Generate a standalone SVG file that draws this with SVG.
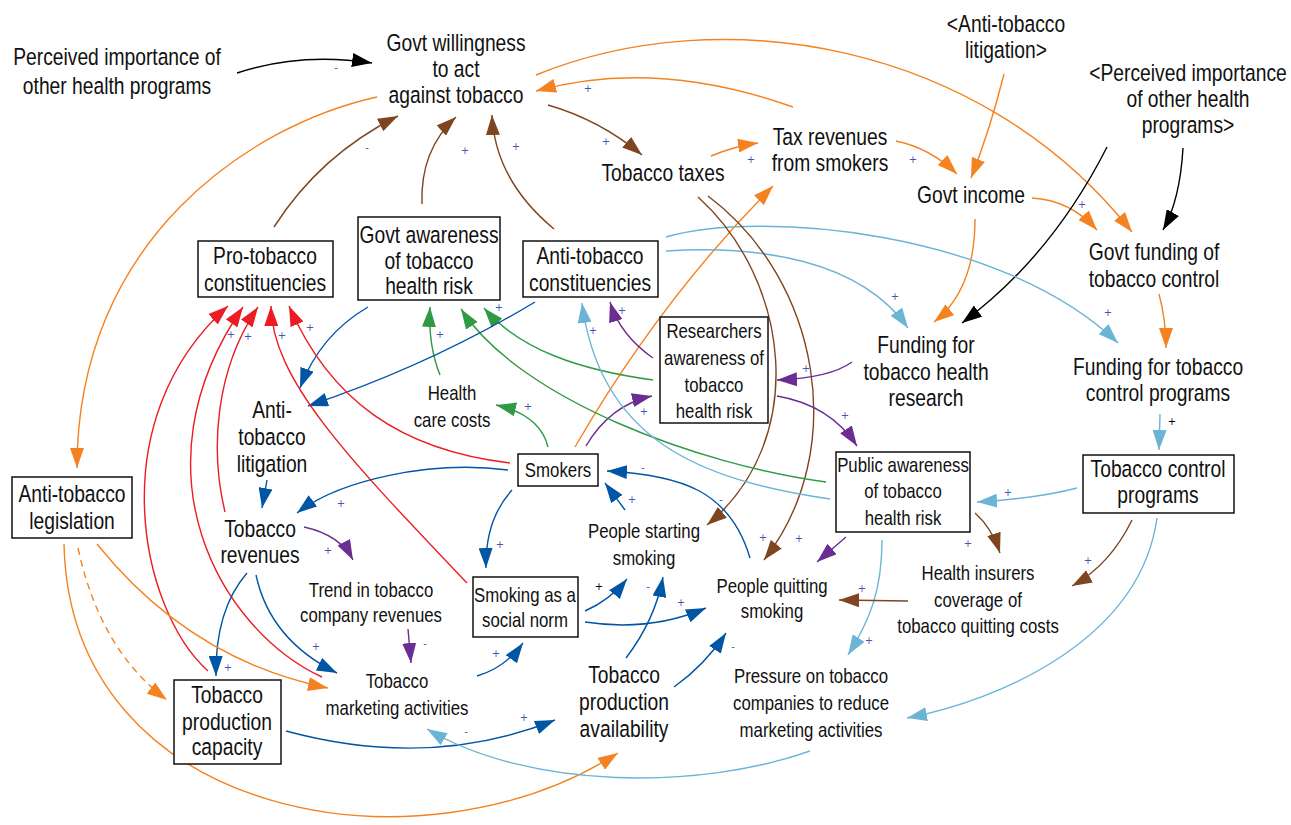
<svg xmlns="http://www.w3.org/2000/svg" width="1291" height="825" viewBox="0 0 1291 825">
<style>
text{font-family:"Liberation Sans",Arial,sans-serif;fill:#111;text-anchor:middle}
.b text{font-size:23.5px}
.s text{font-size:20.5px}
.box{fill:#fff;stroke:#111;stroke-width:1.5}
.c path{fill:none;stroke-width:1.4}
.or{stroke:#f58220;marker-end:url(#mor)}
.br{stroke:#7f4520;marker-end:url(#mbr)}
.rd{stroke:#ed1c24;marker-end:url(#mrd)}
.bl{stroke:#0055a5;marker-end:url(#mbl)}
.lb{stroke:#6ab4d6;marker-end:url(#mlb)}
.gr{stroke:#2f9a43;marker-end:url(#mgr)}
.pu{stroke:#6a2d91;marker-end:url(#mpu)}
.bk{stroke:#000;marker-end:url(#mbk)}
.p text{font-family:"DejaVu Sans",sans-serif;font-size:10px;fill:#4455bb;dominant-baseline:central}
.p text.k{fill:#000}
</style>
<defs>
<marker id="mor" viewBox="0 0 20 14" refX="20" refY="7" markerWidth="20" markerHeight="14" markerUnits="userSpaceOnUse" orient="auto"><path d="M0,0 L20,7 L0,14 z" fill="#f58220"/></marker>
<marker id="mbr" viewBox="0 0 20 14" refX="20" refY="7" markerWidth="20" markerHeight="14" markerUnits="userSpaceOnUse" orient="auto"><path d="M0,0 L20,7 L0,14 z" fill="#7f4520"/></marker>
<marker id="mrd" viewBox="0 0 20 14" refX="20" refY="7" markerWidth="20" markerHeight="14" markerUnits="userSpaceOnUse" orient="auto"><path d="M0,0 L20,7 L0,14 z" fill="#ed1c24"/></marker>
<marker id="mbl" viewBox="0 0 20 14" refX="20" refY="7" markerWidth="20" markerHeight="14" markerUnits="userSpaceOnUse" orient="auto"><path d="M0,0 L20,7 L0,14 z" fill="#0055a5"/></marker>
<marker id="mlb" viewBox="0 0 20 14" refX="20" refY="7" markerWidth="20" markerHeight="14" markerUnits="userSpaceOnUse" orient="auto"><path d="M0,0 L20,7 L0,14 z" fill="#6ab4d6"/></marker>
<marker id="mgr" viewBox="0 0 20 14" refX="20" refY="7" markerWidth="20" markerHeight="14" markerUnits="userSpaceOnUse" orient="auto"><path d="M0,0 L20,7 L0,14 z" fill="#2f9a43"/></marker>
<marker id="mpu" viewBox="0 0 20 14" refX="20" refY="7" markerWidth="20" markerHeight="14" markerUnits="userSpaceOnUse" orient="auto"><path d="M0,0 L20,7 L0,14 z" fill="#6a2d91"/></marker>
<marker id="mbk" viewBox="0 0 20 14" refX="20" refY="7" markerWidth="20" markerHeight="14" markerUnits="userSpaceOnUse" orient="auto"><path d="M0,0 L20,7 L0,14 z" fill="#000"/></marker>
</defs>
<rect width="1291" height="825" fill="#fff"/>

<g id="connectors" class="c">
<path class="bk" d="M237,73 Q300,52 372,63"/>
<path class="or" d="M377,97 C250,125 77,240 77,468"/>
<path class="or" d="M793,107 Q655,58 536,91"/>
<path class="or" d="M536,75 C720,0 980,40 1132,232"/>
<path class="br" d="M548,105 Q600,120 642,155"/>
<path class="br" d="M274,227 Q320,155 398,116"/>
<path class="br" d="M422,204 Q420,150 456,117"/>
<path class="br" d="M554,229 Q495,180 492,115"/>
<path class="or" d="M711,156 Q735,146 758,143"/>
<path class="or" d="M575,447 Q660,300 773,186"/>
<path class="or" d="M896,141 Q930,148 957,174"/>
<path class="or" d="M1004,74 Q990,130 971,178"/>
<path class="or" d="M1032,198 Q1070,200 1097,230"/>
<path class="bk" d="M1183,148 Q1180,200 1163,230"/>
<path class="bk" d="M1107,147 C1070,220 1020,280 962,323"/>
<path class="or" d="M975,219 Q975,290 934,322"/>
<path class="or" d="M1159,294 Q1166,320 1166,348"/>
<path class="lb" d="M666,237 C760,210 1000,230 1118,343"/>
<path class="lb" d="M666,251 C760,245 860,260 908,328"/>
<path class="lb" d="M1160,414 L1159,450"/>
<path class="lb" d="M1077,488 Q1040,498 977,502"/>
<path class="br" d="M1132,520 Q1110,565 1072,586"/>
<path class="lb" d="M1157,518 C1140,640 1000,700 907,718"/>
<path class="br" d="M975,513 Q992,528 1000,553"/>
<path class="lb" d="M882,540 C882,590 870,620 848,655"/>
<path class="pu" d="M846,537 L817,562"/>
<path class="br" d="M908,601 L839,600"/>
<path class="br" d="M698,197 C790,280 810,440 707,525"/>
<path class="br" d="M708,196 C820,280 850,450 764,560"/>
<path class="pu" d="M852,362 Q830,378 777,380"/>
<path class="pu" d="M777,396 Q830,405 857,446"/>
<path class="pu" d="M653,358 Q620,335 610,302"/>
<path class="gr" d="M653,380 C580,370 520,350 484,308"/>
<path class="pu" d="M586,446 Q610,405 652,396"/>
<path class="gr" d="M826,482 C700,465 520,400 461,309"/>
<path class="lb" d="M830,499 C700,480 600,440 582,303"/>
<path class="gr" d="M548,447 Q540,415 496,405"/>
<path class="gr" d="M440,375 Q428,345 430,307"/>
<path class="bl" d="M368,307 Q320,335 300,388"/>
<path class="bl" d="M535,302 Q430,365 308,406"/>
<path class="rd" d="M510,463 C400,450 330,400 289,306"/>
<path class="rd" d="M467,583 C350,460 272,380 271,306"/>
<path class="rd" d="M225,512 C210,450 215,370 258,307"/>
<path class="rd" d="M208,671 C140,610 100,420 228,306"/>
<path class="rd" d="M322,677 C220,630 130,470 243,307"/>
<path class="bl" d="M508,470 C430,460 340,480 297,513"/>
<path class="bl" d="M267,480 L262,508"/>
<path class="bl" d="M512,490 Q485,520 486,568"/>
<path class="pu" d="M304,527 Q340,535 353,560"/>
<path class="pu" d="M408,629 L411,663"/>
<path class="bl" d="M247,573 Q215,610 216,676"/>
<path class="bl" d="M256,575 Q270,640 337,673"/>
<path class="or" d="M97,544 Q190,660 328,688"/>
<path class="or" d="M78,548 Q100,650 167,700" stroke-dasharray="7,5"/>
<path class="or" d="M64,544 C70,820 420,880 618,753"/>
<path class="bl" d="M286,731 Q430,770 555,720"/>
<path class="lb" d="M810,751 C700,790 530,790 427,729"/>
<path class="bl" d="M477,676 Q505,668 523,643"/>
<path class="bl" d="M585,611 Q610,600 627,579"/>
<path class="bl" d="M585,622 Q650,632 706,608"/>
<path class="bl" d="M626,658 Q655,620 663,577"/>
<path class="bl" d="M674,687 Q705,665 726,633"/>
<path class="bl" d="M750,558 C730,490 680,475 607,471"/>
<path class="bl" d="M625,510 L605,483"/>
</g>

<g id="polarities" class="p">
<text x="336" y="67">-</text><text x="367" y="147">-</text><text x="643" y="467">-</text><text x="721" y="499">-</text>
<text x="425" y="643">-</text><text x="648" y="586">-</text><text x="733" y="646">-</text><text x="466" y="731">-</text>
<text x="588" y="88">+</text><text x="465" y="150">+</text><text x="516" y="146">+</text><text x="606" y="141">+</text>
<text x="751" y="159">+</text><text x="913" y="159">+</text><text x="1082" y="204">+</text><text x="895" y="296">+</text>
<text x="1108" y="312">+</text><text x="1008" y="492">+</text><text x="968" y="543">+</text><text x="231" y="334">+</text>
<text x="248" y="336">+</text><text x="282" y="335">+</text><text x="310" y="327">+</text><text x="499" y="307">+</text>
<text x="440" y="334">+</text><text x="528" y="406">+</text><text x="622" y="310">+</text><text x="593" y="330">+</text>
<text x="644" y="411">+</text><text x="806" y="368">+</text><text x="845" y="415">+</text><text x="632" y="499">+</text>
<text x="500" y="544">+</text><text x="763" y="537">+</text><text x="799" y="538">+</text><text x="341" y="503">+</text>
<text x="328" y="550">+</text><text x="228" y="667">+</text><text x="316" y="646">+</text><text x="681" y="602">+</text>
<text x="496" y="653">+</text><text x="524" y="717">+</text><text x="862" y="588">+</text><text x="869" y="640">+</text>
<text x="1088" y="560">+</text>
<text class="k" x="1172" y="421">+</text><text class="k" x="599" y="586">+</text>
</g>

<g id="n-perceived" class="b"><g transform="translate(117,0) scale(0.82,1)"><text x="0" y="65">Perceived importance of</text><text x="0" y="94">other health programs</text></g></g>
<g id="n-govt-willingness" class="b"><g transform="translate(456,0) scale(0.82,1)"><text x="0" y="51">Govt willingness</text><text x="0" y="77">to act</text><text x="0" y="103">against tobacco</text></g></g>
<g id="n-tobacco-taxes" class="b"><g transform="translate(663,0) scale(0.82,1)"><text x="0" y="181">Tobacco taxes</text></g></g>
<g id="n-tax-revenues" class="b"><g transform="translate(830,0) scale(0.82,1)"><text x="0" y="145">Tax revenues</text><text x="0" y="171">from smokers</text></g></g>
<g id="n-anti-litigation-shadow" class="b"><g transform="translate(1006,0) scale(0.82,1)"><text x="0" y="32">&lt;Anti-tobacco</text><text x="0" y="58">litigation&gt;</text></g></g>
<g id="n-perceived-shadow" class="b"><g transform="translate(1188,0) scale(0.82,1)"><text x="0" y="81">&lt;Perceived importance</text><text x="0" y="107">of other health</text><text x="0" y="133">programs&gt;</text></g></g>
<g id="n-govt-income" class="b"><g transform="translate(971,0) scale(0.82,1)"><text x="0" y="203">Govt income</text></g></g>
<g id="n-govt-funding" class="b"><g transform="translate(1154,0) scale(0.82,1)"><text x="0" y="260">Govt funding of</text><text x="0" y="287">tobacco control</text></g></g>
<g id="n-pro-tobacco" class="b"><rect class="box" x="198" y="241" width="135" height="56"/><g transform="translate(265,0) scale(0.82,1)"><text x="0" y="264">Pro-tobacco</text><text x="0" y="291">constituencies</text></g></g>
<g id="n-govt-awareness" class="b"><rect class="box" x="358" y="217" width="142" height="83"/><g transform="translate(429,0) scale(0.82,1)"><text x="0" y="243">Govt awareness</text><text x="0" y="269">of tobacco</text><text x="0" y="294">health risk</text></g></g>
<g id="n-anti-constituencies" class="b"><rect class="box" x="523" y="241" width="135" height="56"/><g transform="translate(590,0) scale(0.82,1)"><text x="0" y="264">Anti-tobacco</text><text x="0" y="291">constituencies</text></g></g>
<g id="n-researchers" class="s"><rect class="box" x="660" y="317" width="108" height="106"/><g transform="translate(714,0) scale(0.82,1)"><text x="0" y="338">Researchers</text><text x="0" y="365">awareness of</text><text x="0" y="392">tobacco</text><text x="0" y="418">health risk</text></g></g>
<g id="n-funding-research" class="b"><g transform="translate(926,0) scale(0.82,1)"><text x="0" y="353">Funding for</text><text x="0" y="380">tobacco health</text><text x="0" y="406">research</text></g></g>
<g id="n-funding-control" class="b"><g transform="translate(1158,0) scale(0.82,1)"><text x="0" y="375">Funding for tobacco</text><text x="0" y="401">control programs</text></g></g>
<g id="n-health-care" class="s"><g transform="translate(452,0) scale(0.82,1)"><text x="0" y="400">Health</text><text x="0" y="427">care costs</text></g></g>
<g id="n-anti-litigation" class="b"><g transform="translate(272,0) scale(0.82,1)"><text x="0" y="418">Anti-</text><text x="0" y="445">tobacco</text><text x="0" y="472">litigation</text></g></g>
<g id="n-tobacco-revenues" class="b"><g transform="translate(260,0) scale(0.82,1)"><text x="0" y="537">Tobacco</text><text x="0" y="563">revenues</text></g></g>
<g id="n-smokers" class="s"><rect class="box" x="518" y="454" width="80" height="32"/><g transform="translate(558,0) scale(0.82,1)"><text x="0" y="477">Smokers</text></g></g>
<g id="n-legislation" class="b"><rect class="box" x="12" y="477" width="120" height="61"/><g transform="translate(72,0) scale(0.82,1)"><text x="0" y="502">Anti-tobacco</text><text x="0" y="529">legislation</text></g></g>
<g id="n-public-awareness" class="s"><rect class="box" x="836" y="452" width="134" height="80"/><g transform="translate(903,0) scale(0.82,1)"><text x="0" y="472">Public awareness</text><text x="0" y="498">of tobacco</text><text x="0" y="525">health risk</text></g></g>
<g id="n-control-programs" class="b"><rect class="box" x="1083" y="455" width="151" height="58"/><g transform="translate(1158,0) scale(0.82,1)"><text x="0" y="477">Tobacco control</text><text x="0" y="503">programs</text></g></g>
<g id="n-starting" class="s"><g transform="translate(644,0) scale(0.82,1)"><text x="0" y="538">People starting</text><text x="0" y="565">smoking</text></g></g>
<g id="n-quitting" class="s"><g transform="translate(772,0) scale(0.82,1)"><text x="0" y="593">People quitting</text><text x="0" y="618">smoking</text></g></g>
<g id="n-trend" class="s"><g transform="translate(371,0) scale(0.82,1)"><text x="0" y="597">Trend in tobacco</text><text x="0" y="622">company revenues</text></g></g>
<g id="n-social-norm" class="s"><rect class="box" x="473" y="577" width="105" height="60"/><g transform="translate(525,0) scale(0.82,1)"><text x="0" y="602">Smoking as a</text><text x="0" y="627">social norm</text></g></g>
<g id="n-insurers" class="s"><g transform="translate(978,0) scale(0.82,1)"><text x="0" y="580">Health insurers</text><text x="0" y="607">coverage of</text><text x="0" y="633">tobacco quitting costs</text></g></g>
<g id="n-marketing" class="s"><g transform="translate(397,0) scale(0.82,1)"><text x="0" y="688">Tobacco</text><text x="0" y="715">marketing activities</text></g></g>
<g id="n-capacity" class="b"><rect class="box" x="174" y="680" width="107" height="84"/><g transform="translate(227,0) scale(0.82,1)"><text x="0" y="703">Tobacco</text><text x="0" y="730">production</text><text x="0" y="755">capacity</text></g></g>
<g id="n-availability" class="b"><g transform="translate(624,0) scale(0.82,1)"><text x="0" y="683">Tobacco</text><text x="0" y="710">production</text><text x="0" y="737">availability</text></g></g>
<g id="n-pressure" class="s"><g transform="translate(811,0) scale(0.82,1)"><text x="0" y="683">Pressure on tobacco</text><text x="0" y="710">companies to reduce</text><text x="0" y="737">marketing activities</text></g></g>
</svg>
